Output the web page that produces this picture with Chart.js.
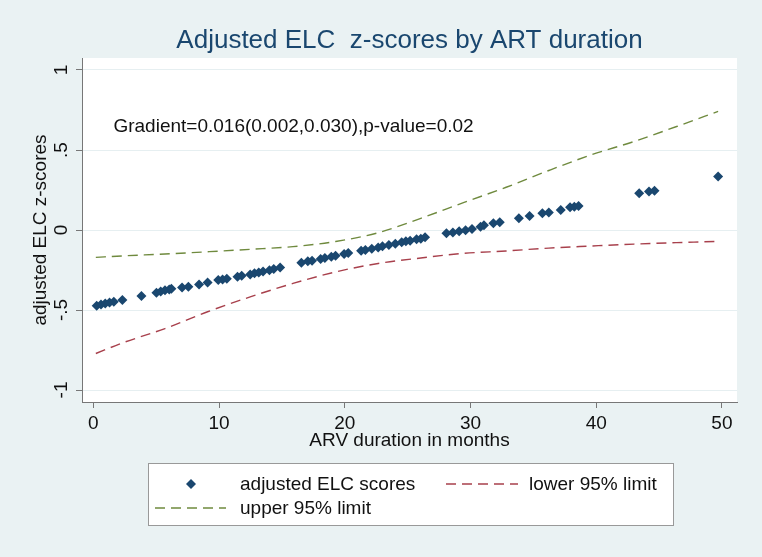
<!DOCTYPE html>
<html><head><meta charset="utf-8">
<script src="https://cdn.jsdelivr.net/npm/chart.js@4.4.0/dist/chart.umd.min.js"></script>
<style>html,body{margin:0;padding:0;background:#eaf2f3;}</style>
</head><body>
<canvas id="c" width="762" height="557"></canvas>
<script>
// ---- data ----
const months = [0.27,0.61,0.95,1.29,1.63,2.31,3.83,5.02,5.36,5.70,6.04,6.21,7.06,7.56,8.41,9.09,9.94,10.28,10.62,11.47,11.80,12.48,12.82,13.16,13.50,14.01,14.35,14.86,16.55,17.06,17.40,18.08,18.42,18.93,19.27,19.95,20.28,21.30,21.64,22.15,22.66,23.00,23.51,24.02,24.53,24.86,25.20,25.71,26.05,26.39,28.09,28.60,29.10,29.61,30.12,30.80,31.07,31.82,32.33,33.85,34.70,35.72,36.23,37.18,37.92,38.26,38.60,43.42,44.20,44.64,49.70];
const zScores = [-0.474,-0.466,-0.459,-0.453,-0.449,-0.438,-0.413,-0.392,-0.384,-0.376,-0.372,-0.367,-0.359,-0.355,-0.340,-0.328,-0.313,-0.309,-0.305,-0.292,-0.286,-0.278,-0.271,-0.265,-0.259,-0.251,-0.244,-0.234,-0.205,-0.196,-0.192,-0.182,-0.175,-0.167,-0.161,-0.150,-0.144,-0.129,-0.125,-0.117,-0.109,-0.102,-0.094,-0.086,-0.077,-0.071,-0.067,-0.058,-0.054,-0.046,-0.021,-0.015,-0.008,-0.002,0.006,0.021,0.029,0.042,0.048,0.073,0.088,0.104,0.109,0.125,0.142,0.146,0.150,0.230,0.240,0.246,0.334];
const limitMonths = [0.2,2.31,5.7,9.09,12.48,15.88,19.27,22.66,26.05,29.44,32.84,36.23,39.62,43.01,46.4,49.7];
const lowerLimit = [-0.772,-0.706,-0.616,-0.511,-0.418,-0.334,-0.262,-0.209,-0.175,-0.146,-0.131,-0.113,-0.100,-0.088,-0.079,-0.071];
const upperLimit = [-0.171,-0.162,-0.150,-0.136,-0.121,-0.104,-0.072,-0.017,0.073,0.171,0.267,0.372,0.470,0.553,0.647,0.741];
const xTicks = [0,10,20,30,40,50];
const yTicks = [-1,-0.5,0,0.5,1];
const yTickLabels = ['-1','-.5','0','.5','1'];
const chartTitle = 'Adjusted ELC  z-scores by ART duration';
const note = 'Gradient=0.016(0.002,0.030),p-value=0.02';
const seriesNames = ['adjusted ELC scores','lower 95% limit','upper 95% limit'];

const FONT = "'Liberation Sans', Arial, sans-serif";
const FS = 19;
const NAVY = '#1a476f', RED = '#a8404c', GREEN = '#6f8a3e';

const pts = months.map((m,i)=>({x:m,y:zScores[i]}));
const lowPts = limitMonths.map((m,i)=>({x:m,y:lowerLimit[i]}));
const upPts = limitMonths.map((m,i)=>({x:m,y:upperLimit[i]}));

function diamond(ctx,x,y,r,color){
  ctx.beginPath();ctx.moveTo(x-r,y);ctx.lineTo(x,y-r);ctx.lineTo(x+r,y);ctx.lineTo(x,y+r);ctx.closePath();
  ctx.fillStyle=color;ctx.fill();
}

const deco = {
  id:'deco',
  beforeDraw(chart){
    const {ctx,chartArea:a}=chart;
    ctx.save();
    ctx.fillStyle='#eaf2f3';ctx.fillRect(0,0,chart.width,chart.height);
    ctx.fillStyle='#ffffff';ctx.fillRect(a.left,a.top,a.right-a.left,a.bottom-a.top);
    ctx.restore();
  },
  afterDraw(chart){
    const {ctx,chartArea:a,scales}=chart;
    ctx.save();
    // y tick labels, vertical (reading upward)
    ctx.fillStyle='#111';ctx.font=FS+"px "+FONT;ctx.textAlign='center';ctx.textBaseline='middle';
    scales.y.ticks.forEach(t=>{
      const y=scales.y.getPixelForValue(t.value);
      ctx.save();ctx.translate(62,y);ctx.rotate(-Math.PI/2);
      ctx.fillText(yTickLabels[yTicks.indexOf(t.value)],0,0);ctx.restore();
    });
    // title
    ctx.fillStyle=NAVY;ctx.font="26px "+FONT;ctx.textAlign='center';ctx.textBaseline='middle';
    ctx.fillText(chartTitle,(a.left+a.right)/2,41);
    // note
    ctx.fillStyle='#111';ctx.font=FS+"px "+FONT;ctx.textAlign='left';
    ctx.fillText(note,scales.x.getPixelForValue(1.6),scales.y.getPixelForValue(0.644));
    // legend
    const L=148,R=673,T=463,B=525;
    ctx.fillStyle='#fff';ctx.fillRect(L,T,R-L,B-T);
    ctx.strokeStyle='#999';ctx.lineWidth=1;ctx.strokeRect(L+0.5,T+0.5,R-L,B-T);
    const ds=chart.data.datasets;
    diamond(ctx,191,484,5,ds[0].backgroundColor);
    ctx.setLineDash([10,6]);ctx.lineWidth=1.3;
    ctx.strokeStyle=ds[1].borderColor;ctx.beginPath();ctx.moveTo(446,484);ctx.lineTo(518,484);ctx.stroke();
    ctx.strokeStyle=ds[2].borderColor;ctx.beginPath();ctx.moveTo(155,508);ctx.lineTo(226,508);ctx.stroke();
    ctx.setLineDash([]);
    ctx.font=FS+"px "+FONT;ctx.fillStyle='#111';ctx.textBaseline='middle';ctx.textAlign='left';
    ctx.fillText(seriesNames[0],240,485);
    ctx.fillText(seriesNames[1],529,485);
    ctx.fillText(seriesNames[2],240,509);
    ctx.restore();
  }
};

new Chart(document.getElementById('c'),{
  type:'scatter',
  data:{datasets:[
    {label:seriesNames[0],data:pts,pointStyle:'rectRot',pointRadius:5,pointHoverRadius:5,backgroundColor:NAVY,borderColor:NAVY,borderWidth:0,order:2},
    {label:seriesNames[1],data:lowPts,type:'line',showLine:true,pointRadius:0,borderColor:RED,borderWidth:1.4,borderDash:[10,6],cubicInterpolationMode:'monotone',fill:false,order:1},
    {label:seriesNames[2],data:upPts,type:'line',showLine:true,pointRadius:0,borderColor:GREEN,borderWidth:1.4,borderDash:[10,6],cubicInterpolationMode:'monotone',fill:false,order:1}
  ]},
  options:{
    responsive:false,animation:false,
    layout:{padding:{left:0,right:25,top:58,bottom:105}},
    plugins:{legend:{display:false},title:{display:false},tooltip:{enabled:false}},
    scales:{
      x:{type:'linear',min:-0.9,max:51.2,
        afterBuildTicks(s){s.ticks=xTicks.map(v=>({value:v}));},
        afterFit(s){s.height=50;},
        ticks:{font:{family:FONT,size:FS},color:'#111',padding:4,autoSkip:false,callback:v=>String(v)},
        grid:{drawOnChartArea:false,drawTicks:true,tickLength:6,tickColor:'#777'},
        border:{display:true,color:'#777',width:1},
        title:{display:true,text:'ARV duration in months',font:{family:FONT,size:FS},color:'#111',padding:{top:0,bottom:0}}
      },
      y:{type:'linear',min:-1.075,max:1.075,
        afterBuildTicks(s){s.ticks=yTicks.map(v=>({value:v}));},
        afterFit(s){s.width=82;},
        ticks:{display:true,color:'rgba(0,0,0,0)',font:{family:FONT,size:FS},padding:4,autoSkip:false,
          callback:v=>yTickLabels[yTicks.indexOf(v)]},
        grid:{color:'#e6eff1',lineWidth:1,drawTicks:true,tickLength:6,tickColor:'#777'},
        border:{display:true,color:'#777',width:1},
        title:{display:true,text:'adjusted ELC z-scores',font:{family:FONT,size:FS},color:'#111',padding:{top:29,bottom:0}}
      }
    }
  },
  plugins:[deco]
});
</script>
</body></html>
